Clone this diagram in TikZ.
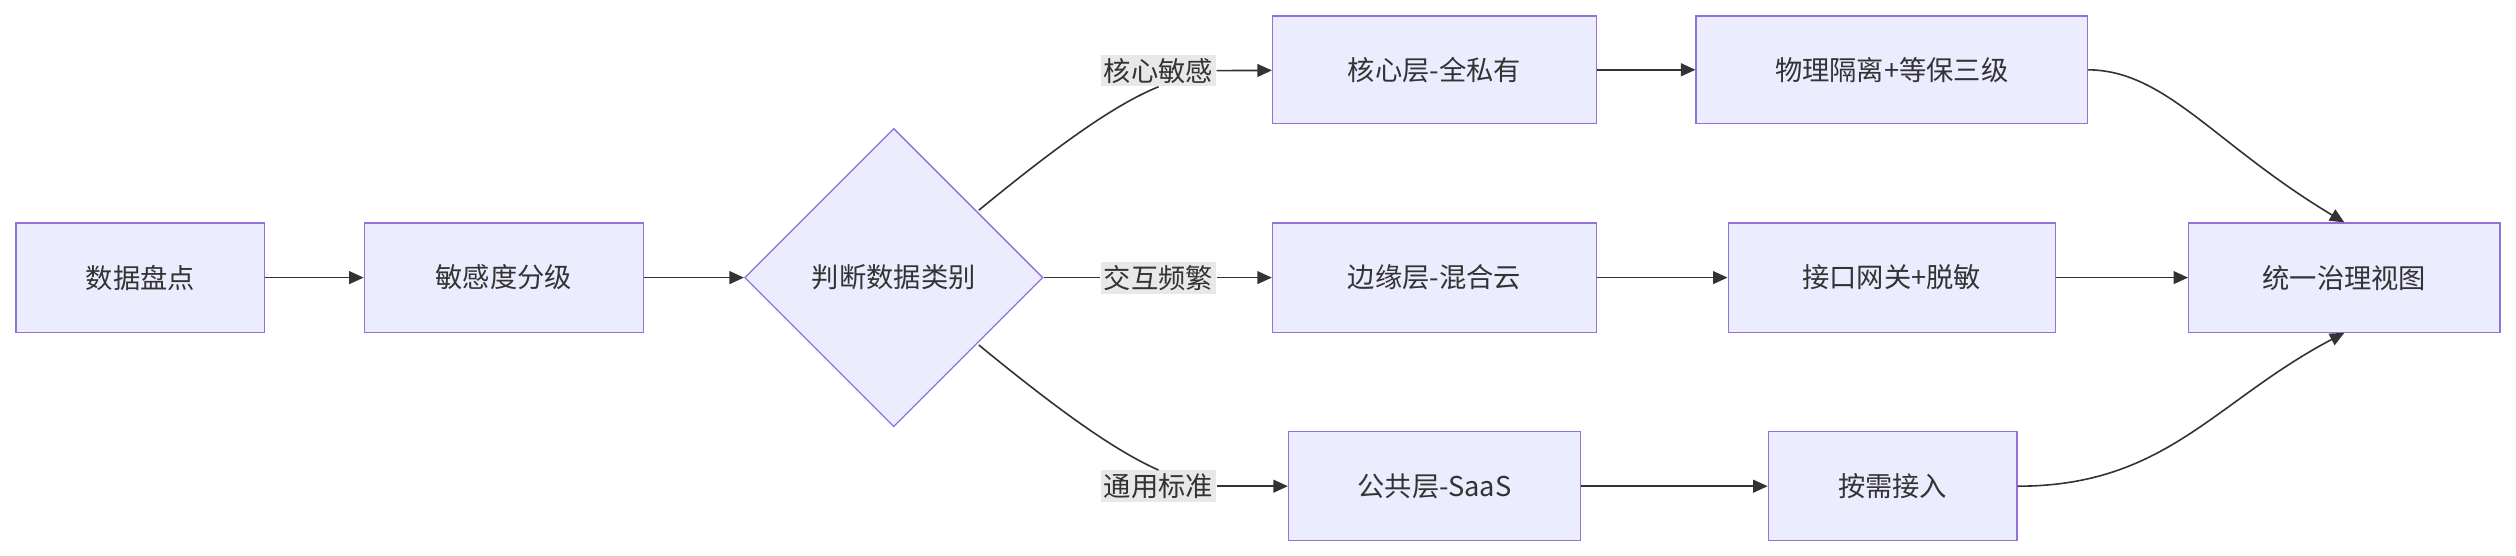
\documentclass[tikz,border=0pt]{standalone}
\usepackage{fontspec}
\setmainfont{Noto Sans CJK SC}
\usetikzlibrary{shapes.geometric,arrows.meta}
\definecolor{nfill}{HTML}{ECECFF}
\definecolor{nline}{HTML}{9370DB}
\definecolor{txt}{HTML}{333333}
\definecolor{lbl}{HTML}{E8E8E8}
\begin{document}
\begin{tikzpicture}[x=1pt,y=-1pt,
  box/.style={draw=nline,fill=nfill,line width=0.8pt,text=txt,font=\fontsize{17}{20}\selectfont,inner sep=0pt},
  lab/.style={fill=lbl,text=txt,font=\fontsize{17}{20}\selectfont,inner sep=2pt},
  conn/.style={draw=txt,line width=1pt,-{Triangle[length=9pt,width=8pt]}},
  plain/.style={draw=txt,line width=1pt}]
\useasboundingbox (0,0) rectangle (1568,346);
\node[box,minimum width=155pt,minimum height=68pt] (a) at (87.5,173) {数据盘点};
\node[box,minimum width=174pt,minimum height=68pt] (b) at (314,173) {敏感度分级};
\node[box,diamond,minimum width=186pt,minimum height=186pt] (d) at (557,173) {判断数据类别};
\node[box,minimum width=202pt,minimum height=67pt] (c1) at (894,43.5) {核心层-全私有};
\node[box,minimum width=244pt,minimum height=67pt] (c2) at (1179,43.5) {物理隔离+等保三级};
\node[box,minimum width=202pt,minimum height=68pt] (e1) at (894,173) {边缘层-混合云};
\node[box,minimum width=204pt,minimum height=68pt] (e2) at (1179,173) {接口网关+脱敏};
\node[box,minimum width=182pt,minimum height=68pt] (p1) at (894,303) {公共层-SaaS};
\node[box,minimum width=155pt,minimum height=68pt] (p2) at (1179.5,303) {按需接入};
\node[box,minimum width=194pt,minimum height=68pt] (u) at (1461,173) {统一治理视图};
\node[lab] (l1) at (722,44) {核心敏感};
\node[lab] (l2) at (722,173) {交互频繁};
\node[lab] (l3) at (722,303) {通用标准};
\coordinate (dt) at (610,131);
\coordinate (db) at (610,215);
\draw[conn] (a) -- (b);
\draw[conn] (b) -- (d);
\draw[plain] (dt) .. controls (660,90) and (695,65) .. (l1.south);
\draw[conn] (l1.east) -- (c1);
\draw[plain] (d.east) -- (l2.west);
\draw[conn] (l2.east) -- (e1);
\draw[plain] (db) .. controls (660,256) and (695,281) .. (l3.north);
\draw[conn] (l3.east) .. controls (785,303) .. (p1.west);
\draw[conn] (c1) -- (c2);
\draw[conn] (e1) -- (e2);
\draw[conn] (p1) -- (p2);
\draw[conn] (c2.east) .. controls (1350,44) and (1380,90) .. (u.north);
\draw[conn] (e2) -- (u);
\draw[conn] (p2.east) .. controls (1350,303) and (1380,250) .. (u.south);
\end{tikzpicture}
\end{document}
